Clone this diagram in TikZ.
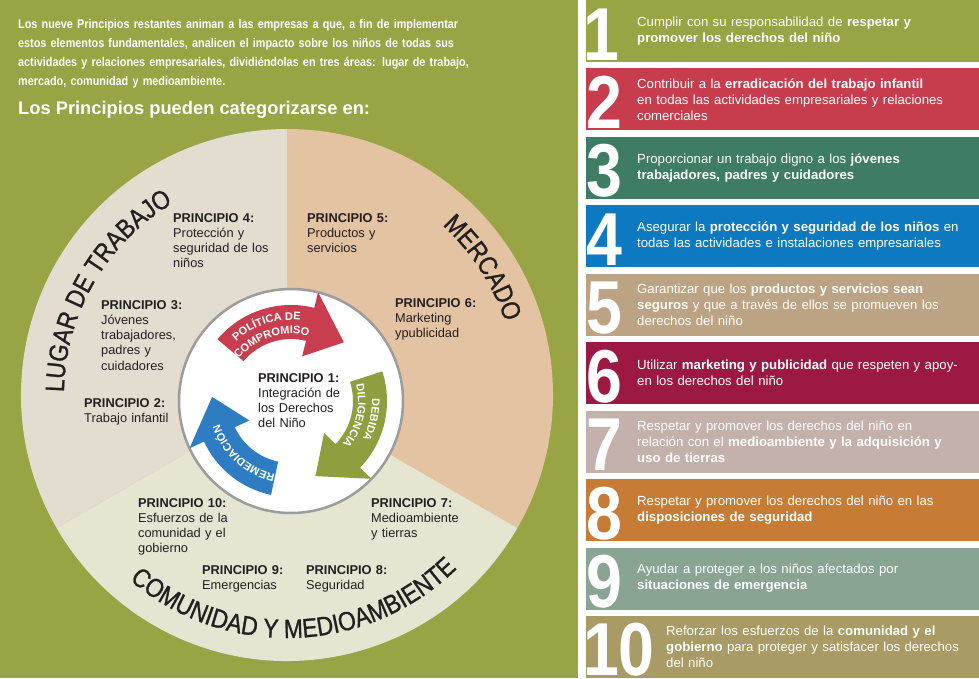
\documentclass[tikz,border=0pt]{standalone}
\usepackage{fontspec}
\setmainfont{Liberation Sans}
\newfontfamily\condfont[FakeStretch=0.86]{Liberation Sans}
\newfontfamily\numfont[FakeStretch=0.86]{Liberation Sans}
\newfontfamily\titlefont[FakeStretch=0.86,FakeBold=1]{Liberation Sans}
\usetikzlibrary{decorations.text}
\definecolor{olivebg}{HTML}{99A445}
\definecolor{lugarc}{HTML}{E3DDCF}
\definecolor{mercc}{HTML}{E3C3A2}
\definecolor{comunc}{HTML}{E5E5D2}
\definecolor{txtc}{HTML}{231F20}
\definecolor{redA}{HTML}{C83E4E}
\definecolor{greenA}{HTML}{8F9F3F}
\definecolor{blueA}{HTML}{2E7CC1}
\definecolor{ringc}{HTML}{9C9C9C}
\definecolor{bA}{HTML}{99A445}
\definecolor{bB}{HTML}{C73D4E}
\definecolor{bC}{HTML}{3E7D63}
\definecolor{bD}{HTML}{0C79C1}
\definecolor{bE}{HTML}{BCA383}
\definecolor{bF}{HTML}{9C1944}
\definecolor{bG}{HTML}{C5B1AC}
\definecolor{bH}{HTML}{C77C35}
\definecolor{bI}{HTML}{8AA493}
\definecolor{bJ}{HTML}{A99B65}
\tikzset{
  ptext/.style={anchor=base west, align=left, inner sep=0pt, text width=140pt,
    font=\fontsize{12.8}{15.3}\selectfont, text=txtc},
  bartext/.style={anchor=west, align=left, inner sep=0pt, text width=340pt,
    font=\fontsize{13.2}{16}\selectfont, text=white},
  bignum/.style={anchor=base, inner sep=0pt, text=white,
    font=\numfont\bfseries\fontsize{75}{75}\selectfont},
  intro/.style={anchor=base west, align=left, inner sep=0pt, text width=560pt,
    text=white, font=\condfont\bfseries\fontsize{12.6}{19.2}\selectfont},
}
\newcommand\mybar[6]{%
  \pgfmathsetmacro\bt{(#1-1)*68.44}%
  \fill[#2] (586,\bt) rectangle (979,\bt+62);
  \node[bignum] (num#1) at (#4,\bt+60) {#3};
  \node[bartext] (txt#1) at (#5,\bt+31) {#6};
}
\newcommand\cyclearrow[5]{% color, tail, head base, tip
  \fill[#1] (#2:62) arc[start angle=#2,end angle=#3,radius=62] -- (#3:46) -- (#4:79)
     -- (#3:112) -- (#3:96) arc[start angle=#3,end angle=#2,radius=96] -- cycle;
}
\begin{document}
\begin{tikzpicture}[x=1pt,y=-1pt]
\useasboundingbox (0,0) rectangle (979,678);
\fill[white] (0,0) rectangle (979,678);
\fill[olivebg] (0,0) rectangle (578,678);

% intro
\node[intro] (intro) at (18,28) {Los nueve Principios restantes animan a las empresas a que, a fin de implementar\\
estos elementos fundamentales, analicen el impacto sobre los niños de todas sus\\
actividades y relaciones empresariales, dividiéndolas en tres áreas: lugar de trabajo,\\
mercado, comunidad y medioambiente.};
\node[anchor=base west, inner sep=0pt, text=white, font=\bfseries\fontsize{18.3}{18.3}\selectfont] (head) at (18,114) {Los Principios pueden categorizarse en:};

% outer wheel
\begin{scope}[shift={(287,395)}]
  \fill[lugarc] (0,0) -- (150:266) arc[start angle=150,end angle=270,radius=266] -- cycle;
  \fill[mercc] (0,0) -- (-90:266) arc[start angle=-90,end angle=30,radius=266] -- cycle;
  \fill[comunc] (0,0) -- (30:266) arc[start angle=30,end angle=150,radius=266] -- cycle;
  \path[decorate, decoration={text along path, text align=center,
     text={|\titlefont\fontsize{26.5}{26.5}\selectfont\color{txtc}|LUGAR DE TRABAJO}}]
     (150:223) arc[start angle=150,end angle=270,radius=223];
  \path[decorate, decoration={text along path, text align=center,
     text={|\titlefont\fontsize{26.5}{26.5}\selectfont\color{txtc}|MERCADO}}]
     (-73:230) arc[start angle=-73,end angle=7,radius=230];
  \path[decorate, decoration={text along path, text align=center,
     text={|\titlefont\fontsize{26.5}{26.5}\selectfont\color{txtc}|COMUNIDAD Y MEDIOAMBIENTE}}]
     (140:243) arc[start angle=140,end angle=36,radius=243];
\end{scope}

% inner circle with arrows
\begin{scope}[shift={(291,401)}]
  \draw[ringc, line width=2.5pt, fill=white] (0,0) circle[radius=112];
  \cyclearrow{redA}{220}{284}{312}{}
  \cyclearrow{greenA}{-18}{44}{72}{}
  \cyclearrow{blueA}{102}{155}{183}{}
  \path[decorate, decoration={text along path, text align=center,
     text={|\bfseries\fontsize{11}{11}\selectfont\color{white}|POLÍTICA DE}}]
     (212:81) arc[start angle=212,end angle=292,radius=81];
  \path[decorate, decoration={text along path, text align=center,
     text={|\bfseries\fontsize{11}{11}\selectfont\color{white}|COMPROMISO}}]
     (212:67) arc[start angle=212,end angle=292,radius=67];
  \path[decorate, decoration={text along path, text align=center,
     text={|\bfseries\fontsize{11}{11}\selectfont\color{white}|DEBIDA}}]
     (-27:81) arc[start angle=-27,end angle=53,radius=81];
  \path[decorate, decoration={text along path, text align=center,
     text={|\bfseries\fontsize{11}{11}\selectfont\color{white}|DILIGENCIA}}]
     (-27:67) arc[start angle=-27,end angle=53,radius=67];
  \path[decorate, decoration={text along path, text align=center,
     text={|\bfseries\fontsize{11}{11}\selectfont\color{white}|REMEDIACIÓN}}]
     (88:75) arc[start angle=88,end angle=176,radius=75];
\end{scope}

% principles
\node[ptext] (p4) at (173,222) {\textbf{PRINCIPIO 4:}\\Protección y\\seguridad de los\\niños};
\node[ptext] (p5) at (307,222) {\textbf{PRINCIPIO 5:}\\Productos y\\servicios};
\node[ptext] (p3) at (101,309) {\textbf{PRINCIPIO 3:}\\Jóvenes\\trabajadores,\\padres y\\cuidadores};
\node[ptext] (p6) at (395,307) {\textbf{PRINCIPIO 6:}\\Marketing\\ypublicidad};
\node[ptext] (p1) at (258,382) {\textbf{PRINCIPIO 1:}\\Integración de\\los Derechos\\del Niño};
\node[ptext] (p2) at (84,407) {\textbf{PRINCIPIO 2:}\\Trabajo infantil};
\node[ptext] (p10) at (138,507) {\textbf{PRINCIPIO 10:}\\Esfuerzos de la\\comunidad y el\\gobierno};
\node[ptext] (p7) at (371,507) {\textbf{PRINCIPIO 7:}\\Medioambiente\\y tierras};
\node[ptext] (p9) at (202,574) {\textbf{PRINCIPIO 9:}\\Emergencias};
\node[ptext] (p8) at (306,574) {\textbf{PRINCIPIO 8:}\\Seguridad};

% right column
\mybar{1}{bA}{1}{601.5}{637}{Cumplir con su responsabilidad de \textbf{respetar y}\\\textbf{promover los derechos del niño}}
\mybar{2}{bB}{2}{604}{637}{Contribuir a la \textbf{erradicación del trabajo infantil}\\en todas las actividades empresariales y relaciones\\comerciales}
\mybar{3}{bC}{3}{604}{637}{Proporcionar un trabajo digno a los \textbf{jóvenes}\\\textbf{trabajadores, padres y cuidadores}}
\mybar{4}{bD}{4}{604}{637}{Asegurar la \textbf{protección y seguridad de los niños} en\\todas las actividades e instalaciones empresariales}
\mybar{5}{bE}{5}{604}{637}{Garantizar que los \textbf{productos y servicios sean}\\\textbf{seguros} y que a través de ellos se promueven los\\derechos del niño}
\mybar{6}{bF}{6}{604}{637}{Utilizar \textbf{marketing y publicidad} que respeten y apoy-\\en los derechos del niño}
\mybar{7}{bG}{7}{604}{637}{Respetar y promover los derechos del niño en\\relación con el \textbf{medioambiente y la adquisición y}\\\textbf{uso de tierras}}
\mybar{8}{bH}{8}{604}{637}{Respetar y promover los derechos del niño en las\\\textbf{disposiciones de seguridad}}
\mybar{9}{bI}{9}{604}{637}{Ayudar a proteger a los niños afectados por\\\textbf{situaciones de emergencia}}
\mybar{10}{bJ}{10}{619}{666}{Reforzar los esfuerzos de la \textbf{comunidad y el}\\\textbf{gobierno} para proteger y satisfacer los derechos\\del niño}
\end{tikzpicture}
\end{document}
